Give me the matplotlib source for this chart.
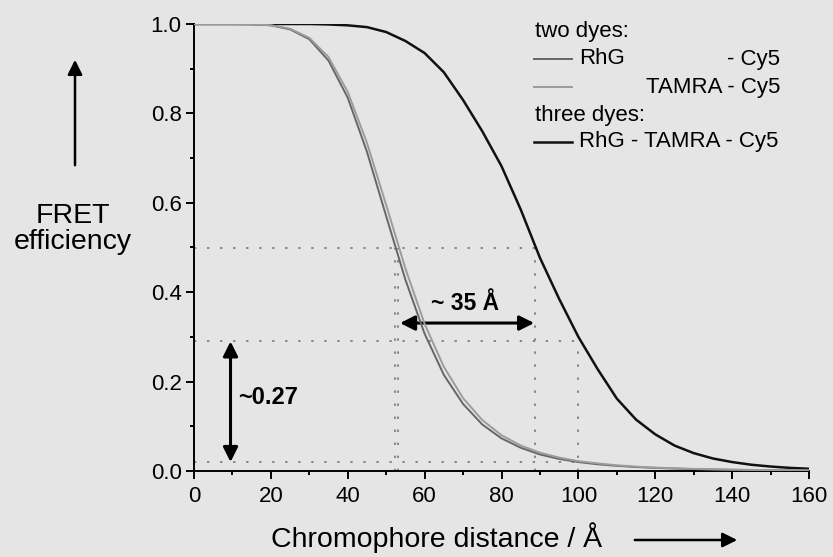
import matplotlib.pyplot as plt
from matplotlib.lines import Line2D
from matplotlib.patches import FancyArrowPatch
from matplotlib.ticker import MultipleLocator

plt.rcParams['font.family'] = ['Liberation Sans', 'DejaVu Sans']

W, H = 833, 557
bg = '#e5e5e5'

# FRET efficiency vs. chromophore distance (Angstrom)
dist = [0, 5, 10, 15, 20, 25, 30, 35, 40, 45, 50, 55, 60, 65, 70, 75, 80,
        85, 90, 95, 100, 105, 110, 115, 120, 125, 130, 135, 140, 145, 150, 155, 160]

rhg_cy5 = [1.0, 1.0, 1.0, 0.9995, 0.997, 0.988, 0.966, 0.918, 0.835, 0.714,
           0.570, 0.428, 0.307, 0.215, 0.150, 0.104, 0.073, 0.052, 0.037, 0.027,
           0.020, 0.015, 0.0115, 0.0089, 0.0069, 0.0054, 0.0043, 0.0034, 0.0027,
           0.0022, 0.0018, 0.0015, 0.0012]

tamra_cy5 = [1.0, 1.0, 1.0, 0.9995, 0.9972, 0.9895, 0.969, 0.926, 0.848, 0.734,
             0.595, 0.453, 0.329, 0.233, 0.163, 0.114, 0.080, 0.057, 0.041, 0.030,
             0.022, 0.017, 0.0128, 0.0098, 0.0076, 0.0060, 0.0047, 0.0038, 0.0030,
             0.0025, 0.0020, 0.0016, 0.0014]

rhg_tamra_cy5 = [1.0, 1.0, 1.0, 1.0, 1.0, 1.0, 1.0, 0.999, 0.997, 0.993,
                 0.982, 0.962, 0.935, 0.892, 0.830, 0.760, 0.682, 0.585, 0.477, 0.385,
                 0.300, 0.228, 0.162, 0.115, 0.082, 0.057, 0.040, 0.028, 0.020,
                 0.014, 0.010, 0.007, 0.005]

# guide values
r_half_two = [52.3, 53.2]
r_half_three = 88.8
r_cmp = 100
e_three_cmp = 0.29
e_two_cmp = 0.02

fig = plt.figure(figsize=(W / 100, H / 100), dpi=100, facecolor=bg)
ax = fig.add_axes([194 / W, 1 - 471 / H, 615 / W, 447 / H], facecolor=bg)

dot = dict(color='#858585', lw=1.4, dashes=(1.2, 5.5), zorder=1)
ax.plot([0, r_half_three], [0.5, 0.5], **dot)
ax.plot([0, r_cmp], [e_three_cmp, e_three_cmp], **dot)
ax.plot([0, r_cmp], [e_two_cmp, e_two_cmp], **dot)
for r in r_half_two:
    ax.plot([r, r], [0, 0.5], **dot)
ax.plot([r_half_three, r_half_three], [0, 0.5], **dot)
ax.plot([r_cmp, r_cmp], [0, e_three_cmp], **dot)

ax.plot(dist, rhg_tamra_cy5, color='#111111', lw=1.8, zorder=3)
ax.plot(dist, rhg_cy5, color='#666666', lw=1.4, zorder=4)
ax.plot(dist, tamra_cy5, color='#9c9c9c', lw=1.4, zorder=4)

arr = dict(arrowstyle='<|-|>', color='k', lw=2.2, mutation_scale=22,
           shrinkA=0, shrinkB=0)
ax.annotate('', xy=(9.5, e_two_cmp), xytext=(9.5, e_three_cmp), arrowprops=arr)
ax.annotate('', xy=(53.6, 0.331), xytext=(88.5, 0.331), arrowprops=arr)
ax.text(11.5, 0.165, '~0.27', fontsize=17, fontweight='bold', va='center')
ax.text(70.5, 0.375, '~ 35 Å', fontsize=16.5, fontweight='bold', ha='center', va='center')

ax.set_xlim(0, 160)
ax.set_ylim(0, 1.0)
ax.xaxis.set_major_locator(MultipleLocator(20))
ax.xaxis.set_minor_locator(MultipleLocator(10))
ax.yaxis.set_major_locator(MultipleLocator(0.2))
ax.yaxis.set_minor_locator(MultipleLocator(0.1))
ax.yaxis.set_major_formatter(lambda v, p: f'{v:.1f}')
for s in ['top', 'right']:
    ax.spines[s].set_visible(False)
for s in ['left', 'bottom']:
    ax.spines[s].set_linewidth(1.4)
ax.tick_params(which='major', length=6, width=1.4, labelsize=16, direction='out')
ax.tick_params(which='minor', length=3, width=1.4, direction='out')
ax.tick_params(axis='x', pad=5)
ax.tick_params(axis='y', pad=3)

# axis titles with arrows
fig.text(73 / W, 1 - 229 / H, 'FRET\nefficiency', fontsize=20.5, ha='center',
         va='center', linespacing=1.0)
fig.add_artist(FancyArrowPatch(
    (75 / W, 1 - 168 / H), (75 / W, 1 - 57 / H), transform=fig.transFigure,
    arrowstyle='-|>', mutation_scale=22, lw=1.8, color='k'))
fig.text(437 / W, 1 - 538 / H, 'Chromophore distance / Å', fontsize=20.5,
         ha='center', va='center')
fig.add_artist(FancyArrowPatch(
    (632 / W, 1 - 540 / H), (740 / W, 1 - 540 / H), transform=fig.transFigure,
    arrowstyle='-|>', mutation_scale=22, lw=1.8, color='k'))

# legend
fs = 16
rows = [32, 59, 87, 115, 142]
fig.text(535 / W, 1 - rows[0] / H, 'two dyes:', fontsize=fs, va='center')
fig.text(535 / W, 1 - rows[3] / H, 'three dyes:', fontsize=fs, va='center')
for y, c, lw in [(rows[1], '#666666', 1.4), (rows[2], '#9c9c9c', 1.4), (rows[4], '#111111', 1.8)]:
    fig.add_artist(Line2D([534 / W, 572 / W], [1 - y / H, 1 - y / H], color=c, lw=lw))
fig.text(579 / W, 1 - rows[1] / H, 'RhG', fontsize=fs, va='center')
fig.text(780 / W, 1 - rows[1] / H, '- Cy5', fontsize=fs, va='center', ha='right')
fig.text(780 / W, 1 - rows[2] / H, 'TAMRA - Cy5', fontsize=fs, va='center', ha='right')
fig.text(579 / W, 1 - rows[4] / H, 'RhG - TAMRA - Cy5', fontsize=fs, va='center')

fig.savefig('out.png', dpi=100, facecolor=bg)
